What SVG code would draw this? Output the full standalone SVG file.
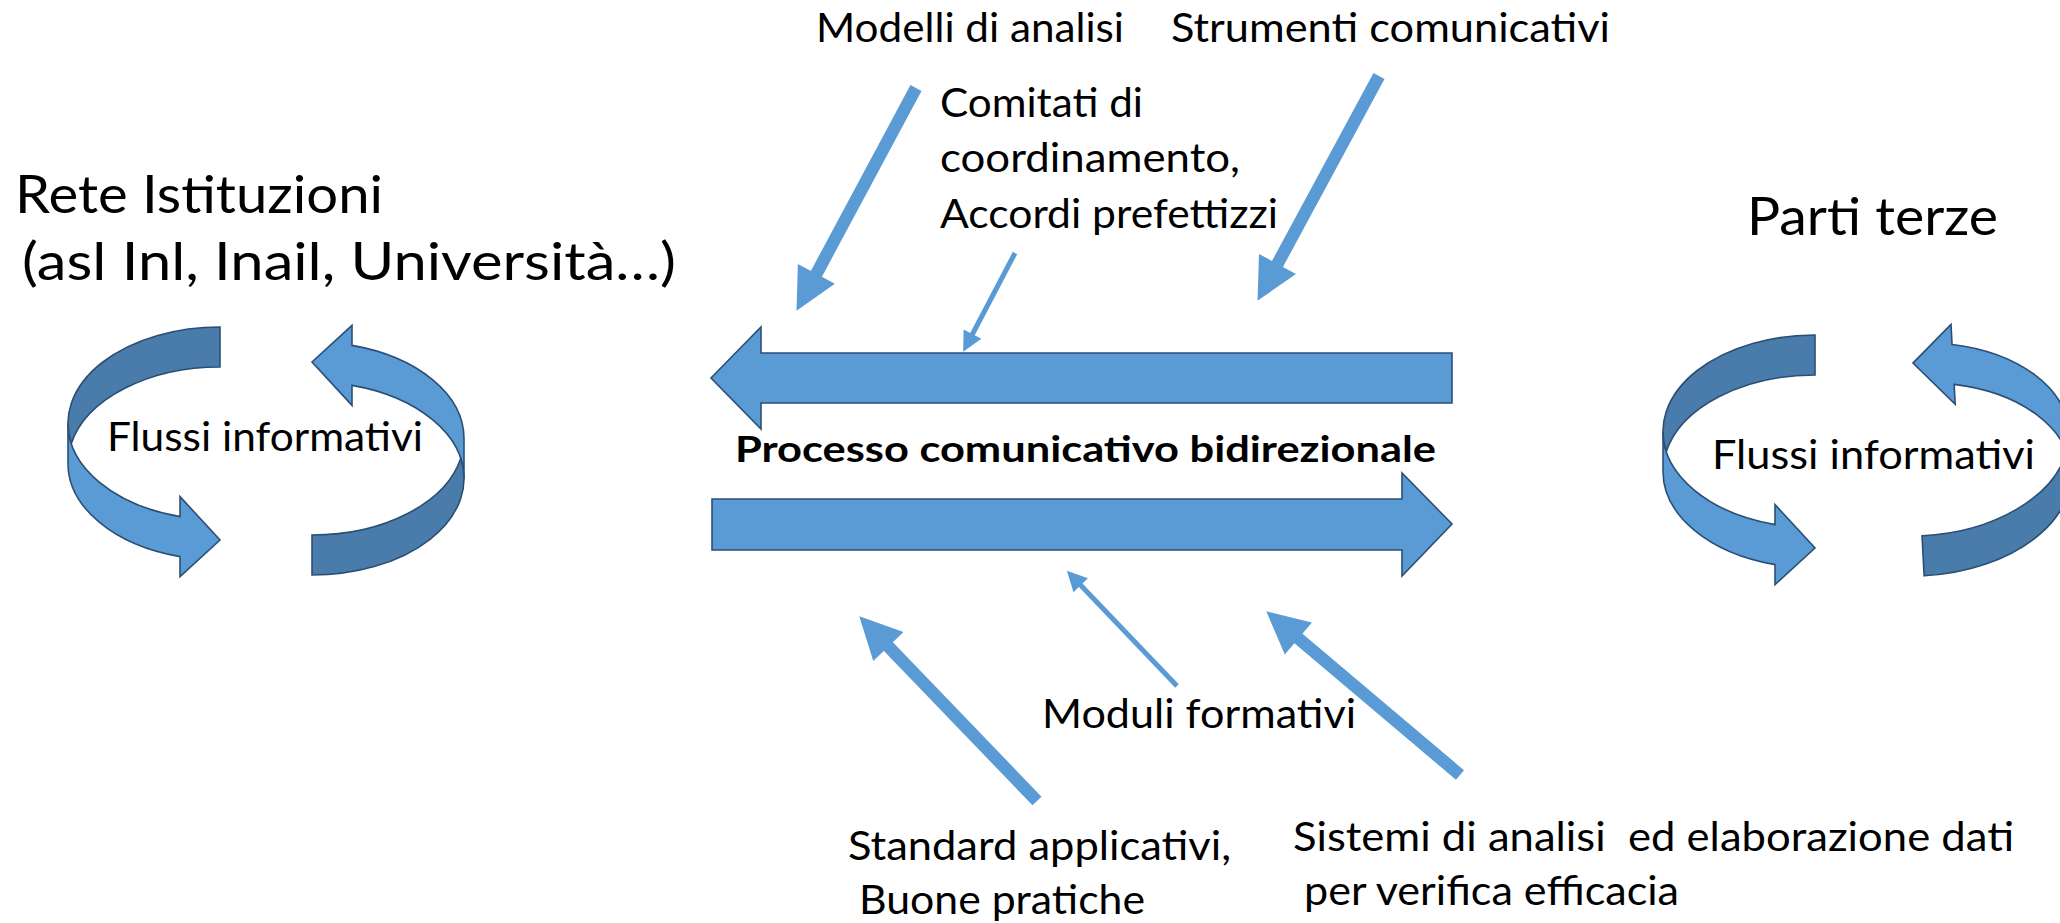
<svg xmlns="http://www.w3.org/2000/svg" xmlns:xlink="http://www.w3.org/1999/xlink" width="2060" height="923" viewBox="0 0 2060 923">
  <style>
    .t { font-family: Lato, "Open Sans", "Liberation Sans", sans-serif; fill: #000; white-space: pre; }
    .title { font-size: 53px; }
    .lab { font-size: 41px; }
    .flow { font-size: 40px; }
    .bold { font-size: 36px; font-weight: bold; }
    .light { fill: #5b9bd5; stroke: #2b4f74; stroke-width: 1.6; stroke-linejoin: miter; }
    .dark { fill: #497caa; stroke: #2b4f74; stroke-width: 1.6; }
    .big { fill: #5b9bd5; stroke: #2b4f74; stroke-width: 1.6; }
    .thick { stroke: #5b9bd5; stroke-width: 12.5; fill: none; marker-end: url(#headThick); }
    .thin { stroke: #5b9bd5; stroke-width: 5; fill: none; marker-end: url(#headThin); }
  </style>
  <defs>
    <marker id="headThick" markerUnits="userSpaceOnUse" markerWidth="60" markerHeight="60" refX="0" refY="0" orient="auto" overflow="visible">
      <path d="M-1,-21 L41,0 L-1,21 Z" fill="#5b9bd5"/>
    </marker>
    <marker id="headThin" markerUnits="userSpaceOnUse" markerWidth="30" markerHeight="30" refX="0" refY="0" orient="auto" overflow="visible">
      <path d="M-1,-10 L19,0 L-1,10 Z" fill="#5b9bd5"/>
    </marker>
    <g id="curvedRight">
      <path class="light" d="M68,423.5 A152,96.5 0 0 0 180,516.6 L180,496.6 L220,540 L180,576.6 L180,556.6 A152,96.5 0 0 1 68,463.5 Z"/>
      <path class="dark" d="M220,327 A152,96.5 0 0 0 71.3,443.5 A152,96.5 0 0 1 220,367 Z"/>
    </g>
  </defs>
  <rect width="2060" height="923" fill="#ffffff"/>

  <g id="rete-istituzioni">
    <text class="t title" x="15" y="213" textLength="368" lengthAdjust="spacingAndGlyphs">Rete Istituzioni</text>
    <text class="t title" x="22" y="280" textLength="654" lengthAdjust="spacingAndGlyphs">(asl Inl, Inail, Università…)</text>
  </g>

  <g id="parti-terze">
    <text class="t title" x="1747" y="235" textLength="251" lengthAdjust="spacingAndGlyphs">Parti terze</text>
  </g>

  <g id="flussi-sinistra">
    <use xlink:href="#curvedRight"/>
    <use xlink:href="#curvedRight" transform="matrix(-1,0,0,-1,532,902)"/>
    <text class="t flow" x="107" y="451" textLength="316" lengthAdjust="spacingAndGlyphs">Flussi informativi</text>
  </g>

  <g id="flussi-destra">
    <use xlink:href="#curvedRight" transform="translate(1595,8)"/>
    <use xlink:href="#curvedRight" transform="translate(4.4,-4) rotate(-3 1989 449.5) translate(1601,1) matrix(-1,0,0,-1,532,902)"/>
    <text class="t flow" x="1712" y="469" textLength="323" lengthAdjust="spacingAndGlyphs">Flussi informativi</text>
  </g>

  <g id="processo">
    <path class="big" d="M711,378 L761,327 L761,353 L1452,353 L1452,403 L761,403 L761,429 Z"/>
    <path class="big" d="M712,499 L1402,499 L1402,473 L1452,524 L1402,576 L1402,550 L712,550 Z"/>
    <text class="t bold" x="735" y="462" textLength="701" lengthAdjust="spacingAndGlyphs">Processo comunicativo bidirezionale</text>
  </g>

  <g id="modelli-di-analisi">
    <text class="t lab" x="816" y="42" textLength="308" lengthAdjust="spacingAndGlyphs">Modelli di analisi</text>
  </g>
  <g id="strumenti-comunicativi">
    <text class="t lab" x="1171" y="42" textLength="439" lengthAdjust="spacingAndGlyphs">Strumenti comunicativi</text>
  </g>
  <g id="comitati">
    <text class="t lab" x="940" y="117" textLength="203" lengthAdjust="spacingAndGlyphs">Comitati di</text>
    <text class="t lab" x="940" y="172" textLength="300" lengthAdjust="spacingAndGlyphs">coordinamento,</text>
    <text class="t lab" x="940" y="228" textLength="338" lengthAdjust="spacingAndGlyphs">Accordi prefettizzi</text>
  </g>
  <g id="moduli-formativi">
    <text class="t lab" x="1042" y="728" textLength="314" lengthAdjust="spacingAndGlyphs">Moduli formativi</text>
  </g>
  <g id="standard-applicativi">
    <text class="t lab" x="848" y="860" textLength="383" lengthAdjust="spacingAndGlyphs">Standard applicativi,</text>
    <text class="t lab" x="859" y="914" textLength="286" lengthAdjust="spacingAndGlyphs">Buone pratiche</text>
  </g>
  <g id="sistemi-di-analisi">
    <text class="t lab" x="1293" y="851" textLength="721" lengthAdjust="spacingAndGlyphs">Sistemi di analisi  ed elaborazione dati</text>
    <text class="t lab" x="1293" y="905" textLength="386" lengthAdjust="spacingAndGlyphs"> per verifica efficacia</text>
  </g>

  <g id="connectors">
    <line class="thick" x1="916" y1="88" x2="815.9" y2="274.7"/>
    <line class="thick" x1="1379" y1="76" x2="1277" y2="264.8"/>
    <line class="thin" x1="1015" y1="253" x2="972" y2="335"/>
    <line class="thick" x1="1037" y1="801" x2="887.7" y2="645.8"/>
    <line class="thin" x1="1177" y1="686" x2="1080" y2="584.5"/>
    <line class="thick" x1="1460" y1="775" x2="1297.6" y2="637.8"/>
  </g>
</svg>
